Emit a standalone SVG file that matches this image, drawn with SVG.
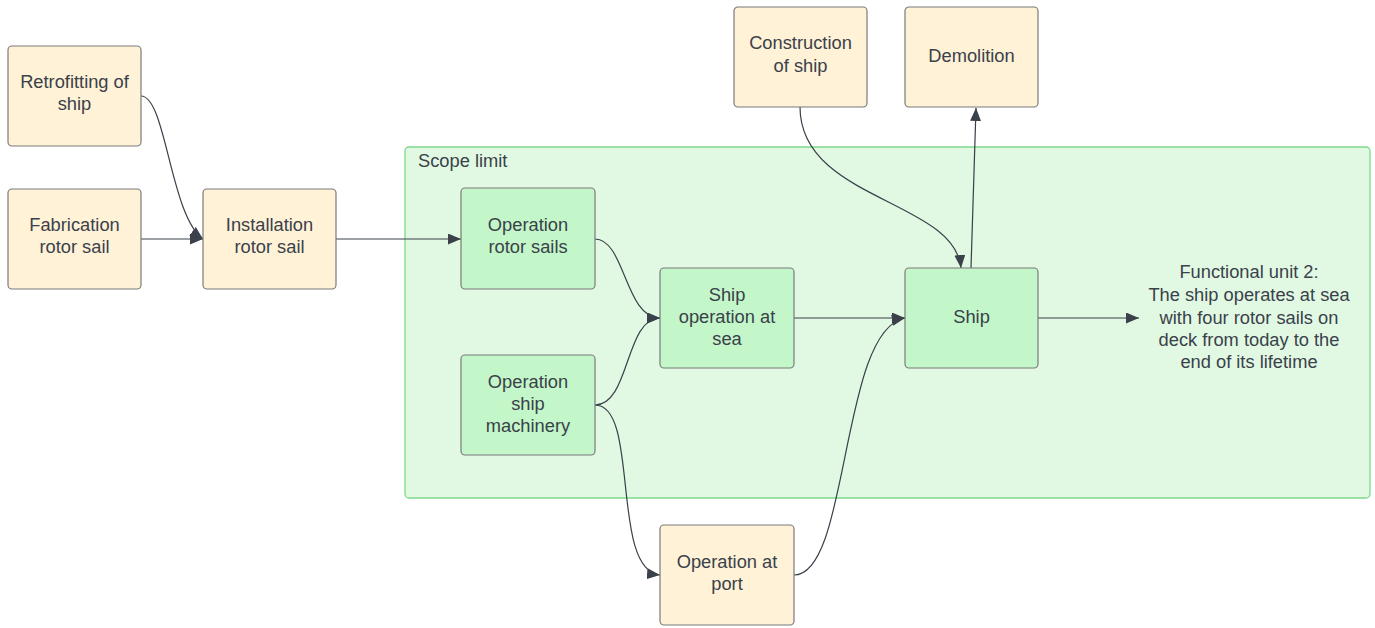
<svg xmlns="http://www.w3.org/2000/svg" width="1375" height="628" viewBox="0 0 1375 628">
<style>
.nb{fill:#fff2d7;stroke:#7b7b7b;stroke-width:1.2}
.ng{fill:#c3f7c9;stroke:#7b7b7b;stroke-width:1.2}
.t{font-family:"Liberation Sans",Arial,sans-serif;font-size:18.3px;fill:#3a414a;text-anchor:middle}
.c{fill:none;stroke:#3a414a;stroke-width:1.2}
</style>
<defs>
<marker id="ah" viewBox="0 0 13 11" refX="13" refY="5.5" markerWidth="13" markerHeight="11" markerUnits="userSpaceOnUse" orient="auto">
<path d="M0,0 L13,5.5 L0,11 Z" fill="#3a414a"/>
</marker>
</defs>
<rect width="1375" height="628" fill="#ffffff"/>
<g id="scope">
<rect x="405" y="147" width="965" height="351" rx="4" fill="#e1f9e3" stroke="#7fd98a" stroke-width="1.3"/>
<text x="418" y="167" class="t" style="text-anchor:start">Scope limit</text>
</g>
<g id="connectors">
<path class="c" marker-end="url(#ah)" d="M141,96 C166,96 170,215 203,239"/>
<path class="c" marker-end="url(#ah)" d="M141,239 L203,239"/>
<path class="c" marker-end="url(#ah)" d="M336,239 L461,239"/>
<path class="c" marker-end="url(#ah)" d="M595,239 C625,239 625,318 660,318"/>
<path class="c" marker-end="url(#ah)" d="M595,405 C630,405 625,318 660,318"/>
<path class="c" marker-end="url(#ah)" d="M595,405 C640,405 610,570 660,575"/>
<path class="c" marker-end="url(#ah)" d="M794,318 L905,318"/>
<path class="c" marker-end="url(#ah)" d="M794,575 C850,575 840,330 905,318"/>
<path class="c" marker-end="url(#ah)" d="M800,107 C800,200 955,200 961,268"/>
<path class="c" marker-end="url(#ah)" d="M971,268 L976,108"/>
<path class="c" marker-end="url(#ah)" d="M1038,318 L1139,318"/>
</g>
<g id="retrofitting">
<rect class="nb" x="8" y="46" width="133" height="100" rx="4"/>
<text class="t" x="74.5" y="88">Retrofitting of</text>
<text class="t" x="74.5" y="110">ship</text>
</g>
<g id="fabrication">
<rect class="nb" x="8" y="189" width="133" height="100" rx="4"/>
<text class="t" x="74.5" y="231">Fabrication</text>
<text class="t" x="74.5" y="253">rotor sail</text>
</g>
<g id="installation">
<rect class="nb" x="203" y="189" width="133" height="100" rx="4"/>
<text class="t" x="269.5" y="231">Installation</text>
<text class="t" x="269.5" y="253">rotor sail</text>
</g>
<g id="op-rotor">
<rect class="ng" x="461" y="188" width="134" height="101" rx="4"/>
<text class="t" x="528" y="231">Operation</text>
<text class="t" x="528" y="253">rotor sails</text>
</g>
<g id="op-machinery">
<rect class="ng" x="461" y="355" width="134" height="100" rx="4"/>
<text class="t" x="528" y="388">Operation</text>
<text class="t" x="528" y="410">ship</text>
<text class="t" x="528" y="432">machinery</text>
</g>
<g id="ship-op-sea">
<rect class="ng" x="660" y="268" width="134" height="100" rx="4"/>
<text class="t" x="727" y="301">Ship</text>
<text class="t" x="727" y="323">operation at</text>
<text class="t" x="727" y="345">sea</text>
</g>
<g id="op-port">
<rect class="nb" x="660" y="525" width="134" height="100" rx="4"/>
<text class="t" x="727" y="568">Operation at</text>
<text class="t" x="727" y="590">port</text>
</g>
<g id="construction">
<rect class="nb" x="734" y="7" width="133" height="100" rx="4"/>
<text class="t" x="800.5" y="49">Construction</text>
<text class="t" x="800.5" y="72">of ship</text>
</g>
<g id="demolition">
<rect class="nb" x="905" y="7" width="133" height="100" rx="4"/>
<text class="t" x="971.5" y="62">Demolition</text>
</g>
<g id="ship">
<rect class="ng" x="905" y="268" width="133" height="100" rx="4"/>
<text class="t" x="971.5" y="323">Ship</text>
</g>
<g id="functional-unit">
<text class="t" x="1249" y="278">Functional unit 2:</text>
<text class="t" x="1249" y="301">The ship operates at sea</text>
<text class="t" x="1249" y="324">with four rotor sails on</text>
<text class="t" x="1249" y="346">deck from today to the</text>
<text class="t" x="1249" y="368">end of its lifetime</text>
</g>
</svg>
